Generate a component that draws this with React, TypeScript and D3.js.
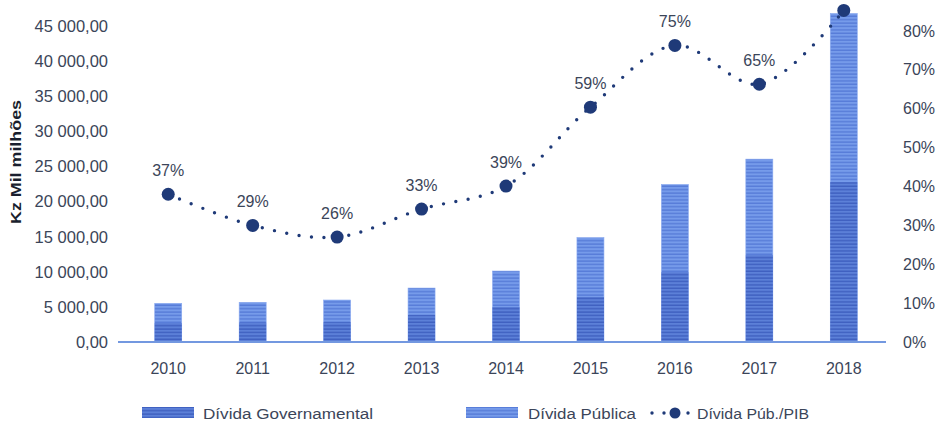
import React from "react";
import * as d3 from "d3";

const years = ["2010", "2011", "2012", "2013", "2014", "2015", "2016", "2017", "2018"];
const dividaPublica = [5500, 5640, 5970, 7670, 10090, 14840, 22400, 26000, 46700];
const dividaGov = [2700, 2750, 2800, 3830, 4970, 6390, 9940, 12360, 22730];
const pibRatio = [0.38, 0.30, 0.27, 0.342, 0.401, 0.604, 0.763, 0.663, 0.853];
const pibLabels = ["37%", "29%", "26%", "33%", "39%", "59%", "75%", "65%", ""];
const leftTicks = [0, 5000, 10000, 15000, 20000, 25000, 30000, 35000, 40000, 45000];
const rightTicks = [0, 0.1, 0.2, 0.3, 0.4, 0.5, 0.6, 0.7, 0.8];

const W = 937;
const H = 424;
const textColor = "#3b4559";
const navy = "#1f3a78";
const font = "'Liberation Sans', Arial, sans-serif";

const fmtLeft = (v: number) => {
  const s = d3.format(",.2f")(v);
  return s.replace(/,/g, " ").replace(".", ",");
};

export default function App() {
  const x = d3.scalePoint<string>().domain(years).range([126, 886]).padding(0.5);
  const yL = d3.scaleLinear().domain([0, 45000]).range([342, 25.5]);
  const yR = d3.scaleLinear().domain([0, 0.8]).range([342, 31]);
  const bw = 27;

  const line = d3
    .line<number>()
    .x((_, i) => x(years[i]) as number)
    .y((d) => yR(d))
    .curve(d3.curveCatmullRom.alpha(0.5));

  return (
    <svg width={W} height={H} style={{ position: "absolute", left: 0, top: 0, background: "#fff" }} fontFamily={font}>
      <defs>
        <pattern id="pLight" patternUnits="userSpaceOnUse" width="6" height="3.4">
          <rect width="6" height="3.4" fill="#769bea" />
          <rect y="2" width="6" height="1.4" fill="#577cd8" />
        </pattern>
        <pattern id="pDark" patternUnits="userSpaceOnUse" width="6" height="3.4">
          <rect width="6" height="3.4" fill="#5c80d8" />
          <rect y="2" width="6" height="1.4" fill="#3f60c0" />
        </pattern>
      </defs>

      {/* left axis labels */}
      {leftTicks.map((t) => (
        <text key={t} x={108} y={yL(t)} textAnchor="end" dominantBaseline="central" fontSize={16.5} fill={textColor}>
          {fmtLeft(t)}
        </text>
      ))}
      <text
        transform={`translate(21,162) rotate(-90)`}
        textAnchor="middle"
        fontSize={15.5}
        fontWeight="bold"
        fill="#1a1f2e"
        textLength={124}
        lengthAdjust="spacingAndGlyphs"
      >
        Kz Mil milhões
      </text>

      {/* right axis labels */}
      {rightTicks.map((t) => (
        <text key={t} x={903} y={yR(t)} textAnchor="start" dominantBaseline="central" fontSize={16} fill={textColor}>
          {d3.format(".0%")(t)}
        </text>
      ))}

      {/* bars */}
      {years.map((yr, i) => {
        const cx = x(yr) as number;
        return (
          <g key={yr}>
            <rect x={cx - bw / 2} y={yL(dividaPublica[i])} width={bw} height={yL(0) - yL(dividaPublica[i])} fill="url(#pLight)" stroke="#8aaaf0" strokeWidth={0.6} />
            <rect x={cx - bw / 2} y={yL(dividaGov[i])} width={bw} height={yL(0) - yL(dividaGov[i])} fill="url(#pDark)" />
          </g>
        );
      })}

      {/* x axis line */}
      <line x1={118} x2={886} y1={342} y2={342} stroke="#7398e0" strokeWidth={2.2} />

      {/* x labels */}
      {years.map((yr) => (
        <text key={yr} x={x(yr) as number} y={368} textAnchor="middle" dominantBaseline="central" fontSize={16} fill={textColor}>
          {yr}
        </text>
      ))}

      {/* ratio line */}
      <path d={line(pibRatio) || ""} fill="none" stroke={navy} strokeWidth={3.4} strokeLinecap="round" strokeDasharray="0 12.5" />
      {pibRatio.map((v, i) => (
        <circle key={i} cx={x(years[i]) as number} cy={yR(v)} r={6.5} fill={navy} />
      ))}
      {pibRatio.map((v, i) => (
        <text key={"l" + i} x={x(years[i]) as number} y={yR(v) - 24} textAnchor="middle" dominantBaseline="central" fontSize={16} fill={textColor}>
          {pibLabels[i]}
        </text>
      ))}

      {/* legend */}
      <rect x={142} y={407} width={52} height={11} fill="url(#pDark)" />
      <text x={203} y={413} dominantBaseline="central" fontSize={15.5} fill={textColor} textLength={170} lengthAdjust="spacingAndGlyphs">
        Dívida Governamental
      </text>
      <rect x={466} y={407} width={52} height={11} fill="url(#pLight)" />
      <text x={528} y={413} dominantBaseline="central" fontSize={15.5} fill={textColor} textLength={108} lengthAdjust="spacingAndGlyphs">
        Dívida Pública
      </text>
      {[652, 664, 688].map((cx) => (
        <circle key={cx} cx={cx} cy={413} r={1.7} fill={navy} />
      ))}
      <circle cx={675} cy={413} r={5.5} fill={navy} />
      <text x={697} y={413} dominantBaseline="central" fontSize={15.5} fill={textColor} textLength={112} lengthAdjust="spacingAndGlyphs">
        Dívida Púb./PIB
      </text>
    </svg>
  );
}
